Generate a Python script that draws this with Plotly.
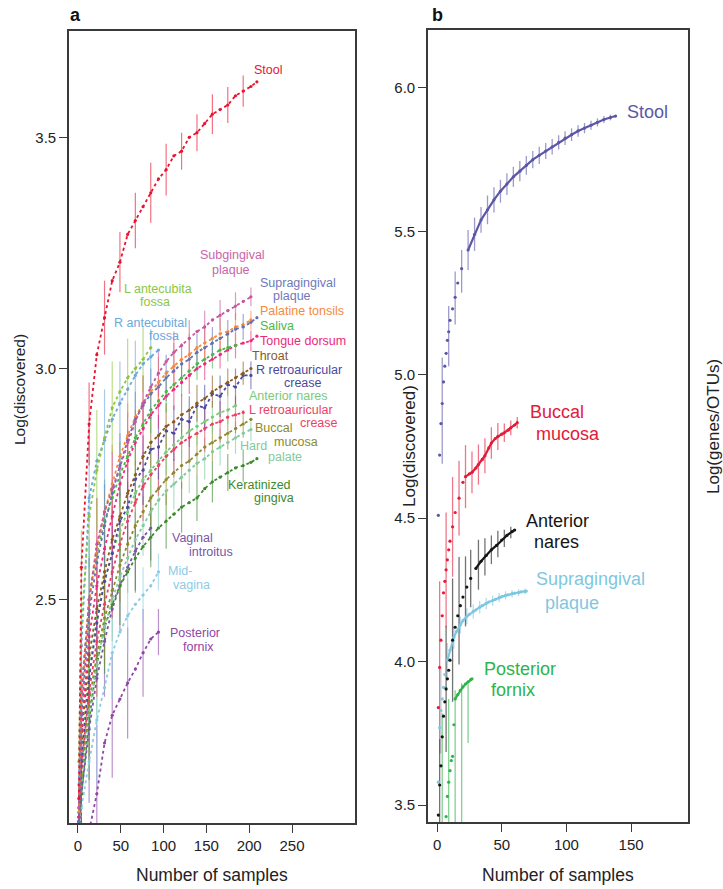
import plotly.graph_objects as go

# ---------------- Panel a data ----------------
GRID_A = [1, 4, 13, 22, 31, 40, 49, 58, 67, 76, 85, 94, 103, 112, 121, 130, 139, 148, 157, 166, 175, 184, 193, 202, 209]

STOOL = [2.07, 2.57, 2.88, 3.03, 3.11, 3.19, 3.23, 3.29, 3.32, 3.35, 3.38, 3.41, 3.43, 3.46, 3.47, 3.50, 3.51, 3.53, 3.55, 3.56, 3.57, 3.59, 3.60, 3.61, 3.62]
STOOL_E = [0, 0, 0.09, 0, 0.08, 0, 0.065, 0, 0.06, 0, 0.065, 0, 0.056, 0, 0.04, 0, 0.04, 0, 0.043, 0, 0.039, 0, 0.034, 0, 0]
SUBG = [2.05, 2.30, 2.50, 2.62, 2.69, 2.74, 2.785, 2.84, 2.885, 2.925, 2.96, 2.99, 3.015, 3.035, 3.05, 3.065, 3.08, 3.09, 3.105, 3.115, 3.125, 3.135, 3.145, 3.155]
SUBG_E = [0, 0.15, 0, 0.1, 0, 0.08, 0, 0.065, 0, 0.06, 0, 0.05, 0, 0.045, 0, 0.04, 0, 0.035, 0, 0.033, 0, 0.03, 0, 0.02]
SUPRA = [2.02, 2.25, 2.47, 2.58, 2.66, 2.73, 2.79, 2.845, 2.89, 2.92, 2.945, 2.96, 2.98, 2.995, 3.01, 3.02, 3.035, 3.045, 3.055, 3.065, 3.075, 3.085, 3.09, 3.10, 3.11]
SUPRA_E = [0, 0, 0.12, 0, 0.09, 0, 0.07, 0, 0.06, 0, 0.055, 0, 0.05, 0, 0.045, 0, 0.04, 0, 0.035, 0, 0.03, 0, 0.028, 0, 0]
TONSILS = [2.04, 2.28, 2.50, 2.61, 2.69, 2.75, 2.81, 2.855, 2.895, 2.925, 2.95, 2.97, 2.99, 3.005, 3.02, 3.03, 3.045, 3.055, 3.065, 3.075, 3.08, 3.09, 3.095, 3.105]
TONSILS_E = [0, 0.16, 0, 0.11, 0, 0.085, 0, 0.07, 0, 0.06, 0, 0.055, 0, 0.05, 0, 0.045, 0, 0.04, 0, 0.035, 0, 0.03, 0, 0.02]
SALIVA = [2.05, 2.30, 2.50, 2.60, 2.67, 2.72, 2.77, 2.81, 2.85, 2.88, 2.91, 2.93, 2.95, 2.965, 2.98, 2.995, 3.01, 3.02, 3.03, 3.04, 3.045, 3.05]
SALIVA_E = [0, 0, 0.13, 0, 0.09, 0, 0.07, 0, 0.06, 0, 0.05, 0, 0.045, 0, 0.04, 0, 0.035, 0, 0.03, 0, 0.03, 0]
TONGUE = [2.03, 2.22, 2.42, 2.53, 2.61, 2.68, 2.75, 2.80, 2.84, 2.87, 2.90, 2.92, 2.94, 2.955, 2.97, 2.985, 3.00, 3.01, 3.02, 3.03, 3.04, 3.05, 3.055, 3.06, 3.07]
TONGUE_E = [0, 0.14, 0, 0.1, 0, 0.08, 0, 0.065, 0, 0.055, 0, 0.05, 0, 0.045, 0, 0.04, 0, 0.035, 0, 0.03, 0, 0.028, 0, 0.022, 0]
THROAT = [2.03, 2.20, 2.38, 2.48, 2.56, 2.63, 2.68, 2.73, 2.77, 2.81, 2.84, 2.855, 2.875, 2.885, 2.90, 2.91, 2.925, 2.935, 2.95, 2.96, 2.97, 2.98, 2.99, 3.00]
THROAT_E = [0, 0, 0.12, 0, 0.09, 0, 0.075, 0, 0.065, 0, 0.055, 0, 0.05, 0, 0.045, 0, 0.04, 0, 0.035, 0, 0.03, 0, 0.025, 0]
RRETRO = [2.02, 2.15, 2.33, 2.45, 2.54, 2.60, 2.67, 2.70, 2.76, 2.78, 2.825, 2.83, 2.865, 2.86, 2.89, 2.885, 2.92, 2.915, 2.945, 2.94, 2.965, 2.96, 2.985, 2.985]
RRETRO_E = [0, 0.16, 0, 0.12, 0, 0.1, 0, 0.085, 0, 0.075, 0, 0.07, 0, 0.06, 0, 0.055, 0, 0.05, 0, 0.045, 0, 0.04, 0, 0.03]
ANARES = [2.02, 2.17, 2.35, 2.46, 2.54, 2.60, 2.65, 2.69, 2.73, 2.76, 2.78, 2.80, 2.82, 2.835, 2.85, 2.865, 2.875, 2.885, 2.895, 2.905, 2.91, 2.92]
ANARES_E = [0, 0, 0.14, 0, 0.1, 0, 0.08, 0, 0.07, 0, 0.06, 0, 0.05, 0, 0.045, 0, 0.04, 0, 0.035, 0, 0.03, 0]
LRETRO = [2.04, 2.14, 2.30, 2.41, 2.49, 2.56, 2.62, 2.67, 2.71, 2.745, 2.77, 2.79, 2.81, 2.825, 2.84, 2.85, 2.86, 2.87, 2.88, 2.885, 2.895, 2.90, 2.905]
LRETRO_E = [0, 0.15, 0, 0.12, 0, 0.1, 0, 0.085, 0, 0.075, 0, 0.065, 0, 0.06, 0, 0.055, 0, 0.05, 0, 0.045, 0, 0.04, 0]
BUCCAL = [2.02, 2.12, 2.28, 2.38, 2.46, 2.52, 2.575, 2.62, 2.66, 2.69, 2.72, 2.74, 2.76, 2.775, 2.79, 2.80, 2.815, 2.83, 2.84, 2.85, 2.86, 2.87, 2.88, 2.89]
BUCCAL_E = [0, 0, 0.13, 0, 0.1, 0, 0.08, 0, 0.07, 0, 0.06, 0, 0.055, 0, 0.05, 0, 0.045, 0, 0.04, 0, 0.035, 0, 0.03, 0]
HPALATE = [2.03, 2.11, 2.26, 2.36, 2.44, 2.50, 2.55, 2.59, 2.63, 2.66, 2.69, 2.715, 2.735, 2.75, 2.765, 2.78, 2.795, 2.805, 2.82, 2.83, 2.84, 2.85, 2.86, 2.868]
HPALATE_E = [0, 0.15, 0, 0.11, 0, 0.09, 0, 0.075, 0, 0.065, 0, 0.06, 0, 0.055, 0, 0.05, 0, 0.045, 0, 0.04, 0, 0.035, 0, 0.025]
KGING = [2.02, 2.08, 2.24, 2.36, 2.44, 2.49, 2.53, 2.56, 2.59, 2.615, 2.635, 2.655, 2.67, 2.685, 2.70, 2.71, 2.72, 2.74, 2.755, 2.765, 2.775, 2.785, 2.79, 2.797, 2.805]
KGING_E = [0, 0, 0.13, 0, 0.1, 0, 0.085, 0, 0.075, 0, 0.065, 0, 0.06, 0, 0.055, 0, 0.05, 0, 0.045, 0, 0.04, 0, 0.035, 0, 0]
LANTE = [2.15, 2.45, 2.68, 2.78, 2.85, 2.915, 2.95, 2.98, 3.00, 3.02, 3.045]
LANTE_E = [0, 0.2, 0, 0.13, 0, 0.1, 0, 0.085, 0, 0.07, 0]
RANTE = [2.10, 2.40, 2.72, 2.80, 2.845, 2.89, 2.925, 2.955, 2.985, 3.01, 3.025, 3.04]
RANTE_E = [0, 0, 0.15, 0, 0.11, 0, 0.09, 0, 0.075, 0, 0.06, 0]
VINTRO = [2.00, 2.08, 2.22, 2.33, 2.41, 2.48, 2.53, 2.57, 2.605, 2.635, 2.655]
VINTRO_E = [0, 0, 0.16, 0, 0.12, 0, 0.1, 0, 0.085, 0, 0.07]
MIDVAG = [2.00, 2.05, 2.15, 2.24, 2.31, 2.385, 2.43, 2.465, 2.49, 2.51, 2.53, 2.56]
MIDVAG_E = [0, 0.15, 0, 0.14, 0, 0.1, 0, 0.08, 0, 0.06, 0, 0.04]
PFORNIX = [1.90, 1.95, 2.00, 2.08, 2.19, 2.25, 2.285, 2.32, 2.35, 2.385, 2.415, 2.43]
PFORNIX_E = [0, 0.15, 0, 0.15, 0, 0.135, 0, 0.12, 0, 0.095, 0, 0.05]

A_SERIES = [
    ("Posterior fornix", "#8f46a6", PFORNIX, PFORNIX_E),
    ("Mid-vagina", "#8ccbe4", MIDVAG, MIDVAG_E),
    ("Vaginal introitus", "#7a55aa", VINTRO, VINTRO_E),
    ("Keratinized gingiva", "#3d8a2e", KGING, KGING_E),
    ("Hard palate", "#82caa0", HPALATE, HPALATE_E),
    ("Buccal mucosa", "#8c8a2b", BUCCAL, BUCCAL_E),
    ("L retroauricular crease", "#ec3f67", LRETRO, LRETRO_E),
    ("Anterior nares", "#7dc97a", ANARES, ANARES_E),
    ("R retroauricular crease", "#4a4a9e", RRETRO, RRETRO_E),
    ("Throat", "#8a5b1c", THROAT, THROAT_E),
    ("Tongue dorsum", "#ec2a7b", TONGUE, TONGUE_E),
    ("Saliva", "#4cb748", SALIVA, SALIVA_E),
    ("Palatine tonsils", "#f58a3b", TONSILS, TONSILS_E),
    ("Supragingival plaque", "#6670b5", SUPRA, SUPRA_E),
    ("Subgingival plaque", "#c4579f", SUBG, SUBG_E),
    ("R antecubital fossa", "#6aa8dc", RANTE, RANTE_E),
    ("L antecubital fossa", "#8cc63e", LANTE, LANTE_E),
    ("Stool", "#e8142f", STOOL, STOOL_E),
]

# label lines: text, n (left edge), value (middle), colour
A_LABELS = [
    ("Stool", 204.1, 3.645, "#e8142f"),
    ("Subgingival", 141.7, 3.245, "#c866a8"),
    ("plaque", 155.4, 3.213, "#c866a8"),
    ("Supragingival", 211.8, 3.184, "#7078bb"),
    ("plaque", 226.3, 3.156, "#7078bb"),
    ("Palatine tonsils", 211.8, 3.124, "#f58a3b"),
    ("Saliva", 211.8, 3.092, "#4cb748"),
    ("Tongue dorsum", 211.8, 3.059, "#ec2a7b"),
    ("Throat", 201.8, 3.028, "#8a5b1c"),
    ("R retroauricular", 206.8, 2.997, "#4a4a9e"),
    ("crease", 239.8, 2.9685, "#4a4a9e"),
    ("Anterior nares", 198.2, 2.9398, "#7dc97a"),
    ("L retroauricular", 198.2, 2.9113, "#ec3f67"),
    ("crease", 258.5, 2.882, "#ec3f67"),
    ("Buccal", 205.6, 2.8723, "#8c8a2b"),
    ("mucosa", 228.2, 2.842, "#8c8a2b"),
    ("Hard", 188.4, 2.832, "#82caa0"),
    ("palate", 220.5, 2.808, "#82caa0"),
    ("Keratinized", 173.7, 2.747, "#3d8a2e"),
    ("gingiva", 204.8, 2.719, "#3d8a2e"),
    ("L antecubita", 52.9, 3.171, "#8cc63e"),
    ("fossa", 71.3, 3.143, "#8cc63e"),
    ("R antecubital", 40.5, 3.099, "#6aa8dc"),
    ("fossa", 82.1, 3.070, "#6aa8dc"),
    ("Vaginal", 108.6, 2.633, "#7a55aa"),
    ("introitus", 128.2, 2.604, "#7a55aa"),
    ("Mid-", 103.6, 2.561, "#8ccbe4"),
    ("vagina", 109.5, 2.531, "#8ccbe4"),
    ("Posterior", 106.7, 2.428, "#8f46a6"),
    ("fornix", 121.1, 2.398, "#8f46a6"),
]

# ---------------- Panel b data ----------------
B_STOOL_N = [1, 2, 3, 4, 5, 6, 7, 8, 9, 10, 12, 14, 16, 19, 24, 29, 34, 39, 44, 49, 54, 59, 64, 69, 74, 79, 84, 89, 94, 99, 104, 109, 114, 119, 124, 129, 134, 138]
B_STOOL_V = [4.51, 4.72, 4.83, 4.90, 4.975, 5.03, 5.075, 5.12, 5.15, 5.19, 5.23, 5.27, 5.32, 5.37, 5.435, 5.49, 5.54, 5.575, 5.61, 5.64, 5.665, 5.69, 5.71, 5.73, 5.75, 5.765, 5.78, 5.795, 5.81, 5.825, 5.837, 5.85, 5.86, 5.87, 5.88, 5.89, 5.897, 5.902]
B_STOOL_BN = [4, 9, 14, 19, 24, 29, 34, 39, 44, 49, 54, 59, 64, 69, 74, 79, 84, 89, 94, 99, 104, 109, 114, 119, 124, 129, 134]
B_STOOL_LO = [4.69, 5.03, 5.175, 5.286, 5.365, 5.432, 5.495, 5.525, 5.566, 5.60, 5.627, 5.655, 5.675, 5.697, 5.72, 5.735, 5.752, 5.768, 5.785, 5.801, 5.815, 5.83, 5.842, 5.854, 5.866, 5.878, 5.887]
B_STOOL_HI = [5.06, 5.24, 5.36, 5.435, 5.505, 5.548, 5.585, 5.625, 5.654, 5.68, 5.703, 5.725, 5.745, 5.763, 5.78, 5.795, 5.808, 5.822, 5.835, 5.849, 5.859, 5.87, 5.878, 5.886, 5.894, 5.902, 5.907]

B_BUCCAL_N = [1, 2, 3, 4, 5, 6, 7, 8, 9, 10, 12, 14, 17, 20, 22, 25, 27, 30, 32, 35, 37, 40, 42, 45, 47, 50, 52, 55, 57, 60, 62]
B_BUCCAL_V = [3.84, 3.98, 4.075, 4.16, 4.24, 4.28, 4.32, 4.355, 4.39, 4.42, 4.47, 4.52, 4.57, 4.625, 4.645, 4.655, 4.66, 4.675, 4.687, 4.705, 4.718, 4.745, 4.762, 4.778, 4.785, 4.793, 4.798, 4.807, 4.815, 4.825, 4.833]
B_BUCCAL_BN = [2, 7, 12, 17, 22, 27, 32, 37, 42, 47, 52, 57, 62]
B_BUCCAL_LO = [3.68, 4.12, 4.296, 4.44, 4.535, 4.587, 4.617, 4.657, 4.707, 4.738, 4.766, 4.789, 4.813]
B_BUCCAL_HI = [4.28, 4.52, 4.644, 4.70, 4.755, 4.733, 4.757, 4.779, 4.817, 4.832, 4.83, 4.841, 4.853]

B_NARES_N = [1, 2, 3, 4, 5, 6, 7, 8, 9, 10, 12, 14, 16, 18, 20, 23, 26, 30, 34, 38, 42, 46, 50, 54, 58, 60]
B_NARES_V = [3.465, 3.57, 3.637, 3.738, 3.81, 3.86, 3.905, 3.94, 3.97, 4.005, 4.075, 4.12, 4.16, 4.195, 4.225, 4.26, 4.29, 4.325, 4.35, 4.37, 4.39, 4.405, 4.424, 4.44, 4.453, 4.459]
B_NARES_BN = [2, 7, 12, 17, 22, 26, 32, 37, 42, 47, 52, 57]
B_NARES_LO = [3.41, 3.685, 3.86, 3.99, 4.123, 4.19, 4.251, 4.30, 4.34, 4.364, 4.40, 4.43]
B_NARES_HI = [3.73, 4.125, 4.29, 4.365, 4.367, 4.39, 4.425, 4.43, 4.44, 4.456, 4.46, 4.47]

B_SUPRA_N = [1, 2, 3, 4, 5, 6, 8, 10, 13, 15, 18, 20, 23, 25, 28, 30, 33, 35, 38, 40, 43, 45, 48, 50, 53, 55, 58, 60, 63, 65, 68, 69]
B_SUPRA_V = [3.58, 3.77, 3.83, 3.87, 3.91, 3.955, 4.005, 4.04, 4.085, 4.105, 4.128, 4.143, 4.158, 4.165, 4.175, 4.18, 4.19, 4.195, 4.203, 4.208, 4.213, 4.217, 4.223, 4.227, 4.231, 4.233, 4.237, 4.239, 4.241, 4.243, 4.245, 4.246]
B_SUPRA_BN = [3, 8, 13, 18, 23, 28, 33, 38, 43, 48, 53, 58, 63, 68]
B_SUPRA_LO = [3.68, 3.945, 4.045, 4.098, 4.13, 4.15, 4.168, 4.183, 4.195, 4.207, 4.217, 4.224, 4.229, 4.235]
B_SUPRA_HI = [3.98, 4.065, 4.125, 4.158, 4.186, 4.20, 4.212, 4.223, 4.231, 4.239, 4.245, 4.25, 4.253, 4.255]

B_PFORNIX_N = [6, 7, 8, 9, 10, 11, 12, 13, 14, 16, 18, 20, 22, 24, 26, 27]
B_PFORNIX_V = [3.40, 3.46, 3.53, 3.58, 3.62, 3.655, 3.67, 3.78, 3.87, 3.885, 3.90, 3.912, 3.922, 3.93, 3.937, 3.94]
B_PFORNIX_BN = [4, 9, 14, 19, 24]
B_PFORNIX_LO = [3.40, 3.40, 3.40, 3.40, 3.716]
B_PFORNIX_HI = [3.82, 3.87, 3.90, 3.925, 3.925]

# name, colour, N, V, bar N, bar lo, bar hi, n from which points merge into a line
B_SERIES = [
    ("Posterior fornix", "#2fb34a", B_PFORNIX_N, B_PFORNIX_V, B_PFORNIX_BN, B_PFORNIX_LO, B_PFORNIX_HI, 14),
    ("Supragingival plaque", "#7fc7e0", B_SUPRA_N, B_SUPRA_V, B_SUPRA_BN, B_SUPRA_LO, B_SUPRA_HI, 8),
    ("Anterior nares", "#151515", B_NARES_N, B_NARES_V, B_NARES_BN, B_NARES_LO, B_NARES_HI, 30),
    ("Buccal mucosa", "#e31a38", B_BUCCAL_N, B_BUCCAL_V, B_BUCCAL_BN, B_BUCCAL_LO, B_BUCCAL_HI, 22),
    ("Stool", "#5b57a6", B_STOOL_N, B_STOOL_V, B_STOOL_BN, B_STOOL_LO, B_STOOL_HI, 24),
]

B_LABELS = [
    ("Stool", 146.2, 5.916, "#5b57a6"),
    ("Buccal", 71.4, 4.872, "#e31a38"),
    ("mucosa", 75.8, 4.795, "#e31a38"),
    ("Anterior", 68.1, 4.490, "#151515"),
    ("nares", 74.5, 4.416, "#151515"),
    ("Supragingival", 75.8, 4.287, "#7fc7e0"),
    ("plaque", 82.8, 4.203, "#7fc7e0"),
    ("Posterior", 35.3, 3.973, "#2fb34a"),
    ("fornix", 41.0, 3.902, "#2fb34a"),
]


def rgba(h, a):
    h = h.lstrip("#")
    return "rgba(%d,%d,%d,%.2f)" % (int(h[0:2], 16), int(h[2:4], 16), int(h[4:6], 16), a)


fig = go.Figure()

# panel a: error bars first
for name, col, v, e in A_SERIES:
    n = GRID_A[:len(v)]
    xs, ys = [], []
    for ni, vi, ei in zip(n, v, e):
        if ei > 0:
            xs += [ni, ni, None]
            ys += [vi - ei, vi + ei, None]
    fig.add_trace(go.Scatter(x=xs, y=ys, mode="lines", line=dict(color=rgba(col, 0.6), width=1.2),
                             xaxis="x", yaxis="y", hoverinfo="skip", showlegend=False))
for name, col, v, e in A_SERIES:
    n = GRID_A[:len(v)]
    fig.add_trace(go.Scatter(x=n, y=v, mode="lines+markers", name=name,
                             line=dict(color=col, width=1.8, dash="dot"),
                             marker=dict(color=col, size=3.2),
                             xaxis="x", yaxis="y", showlegend=False))

# panel b
for name, col, n, v, bn, lo, hi, lf in B_SERIES:
    xs, ys = [], []
    for bi, l, h in zip(bn, lo, hi):
        xs += [bi, bi, None]
        ys += [l, h, None]
    fig.add_trace(go.Scatter(x=xs, y=ys, mode="lines", line=dict(color=rgba(col, 0.6), width=1.3),
                             xaxis="x2", yaxis="y2", hoverinfo="skip", showlegend=False))
for name, col, n, v, bn, lo, hi, lf in B_SERIES:
    fig.add_trace(go.Scatter(x=n, y=v, mode="markers", name=name, marker=dict(color=col, size=3.2),
                             xaxis="x2", yaxis="y2", showlegend=False))
    ln = [a for a in n if a >= lf]
    lv = [b for a, b in zip(n, v) if a >= lf]
    fig.add_trace(go.Scatter(x=ln, y=lv, mode="lines", line=dict(color=col, width=2.2),
                             xaxis="x2", yaxis="y2", hoverinfo="skip", showlegend=False))

ann = []
for t, x, y, c in A_LABELS:
    ann.append(dict(text=t, x=x, y=y, xref="x", yref="y", xanchor="left", yanchor="middle",
                    showarrow=False, font=dict(size=12.5, color=c), borderpad=0))
for t, x, y, c in B_LABELS:
    ann.append(dict(text=t, x=x, y=y, xref="x2", yref="y2", xanchor="left", yanchor="middle",
                    showarrow=False, font=dict(size=18, color=c), borderpad=0))

TXT = "#222222"
ann += [
    dict(text="<b>a</b>", x=68 / 723, y=1 - 15 / 889, xref="paper", yref="paper", xanchor="left",
         yanchor="middle", showarrow=False, font=dict(size=18, color="#111")),
    dict(text="<b>b</b>", x=430 / 723, y=1 - 15 / 889, xref="paper", yref="paper", xanchor="left",
         yanchor="middle", showarrow=False, font=dict(size=18, color="#111")),
    dict(text="Log(discovered)", x=20 / 723, y=1 - 390 / 889, xref="paper", yref="paper",
         xanchor="center", yanchor="middle", textangle=-90, showarrow=False,
         font=dict(size=15.5, color=TXT)),
    dict(text="Number of samples", x=212 / 723, y=1 - 875 / 889, xref="paper", yref="paper",
         xanchor="center", yanchor="middle", showarrow=False, font=dict(size=17.5, color=TXT)),
    dict(text="Number of samples", x=558 / 723, y=1 - 875 / 889, xref="paper", yref="paper",
         xanchor="center", yanchor="middle", showarrow=False, font=dict(size=17.5, color=TXT)),
    dict(text="Log(discovered)", x=410 / 723, y=1 - 446 / 889, xref="paper", yref="paper",
         xanchor="center", yanchor="middle", textangle=-90, showarrow=False,
         font=dict(size=17, color=TXT)),
    dict(text="Log(genes/OTUs)", x=713 / 723, y=1 - 427 / 889, xref="paper", yref="paper",
         xanchor="center", yanchor="middle", textangle=-90, showarrow=False,
         font=dict(size=17, color=TXT)),
]

axis_common = dict(showline=True, mirror=True, linecolor="#3a3a3a", linewidth=1.6, ticks="outside",
                   ticklen=8, tickwidth=1.3, tickcolor="#3a3a3a", showgrid=False, zeroline=False,
                   tickfont=dict(size=15, color=TXT))

fig.update_layout(
    width=723, height=889, margin=dict(l=0, r=0, t=0, b=0),
    paper_bgcolor="white", plot_bgcolor="white",
    font=dict(family="Liberation Sans, Arial, sans-serif", color=TXT),
    xaxis=dict(domain=[69 / 723, 355 / 723], range=[-10.5, 323.6], tickvals=[0, 50, 100, 150, 200, 250],
               anchor="y", **axis_common),
    yaxis=dict(domain=[1 - 823 / 889, 1 - 31 / 889], range=[2.017, 3.73], tickvals=[2.5, 3.0, 3.5],
               tickformat=".1f", anchor="x", **axis_common),
    xaxis2=dict(domain=[428 / 723, 688 / 723], range=[-7, 194], tickvals=[0, 50, 100, 150],
                anchor="y2", **axis_common),
    yaxis2=dict(domain=[1 - 822 / 889, 1 - 30 / 889], range=[3.441, 6.202],
                tickvals=[3.5, 4.0, 4.5, 5.0, 5.5, 6.0], tickformat=".1f", anchor="x2", **axis_common),
    annotations=ann,
)

fig.write_html("out.html")
